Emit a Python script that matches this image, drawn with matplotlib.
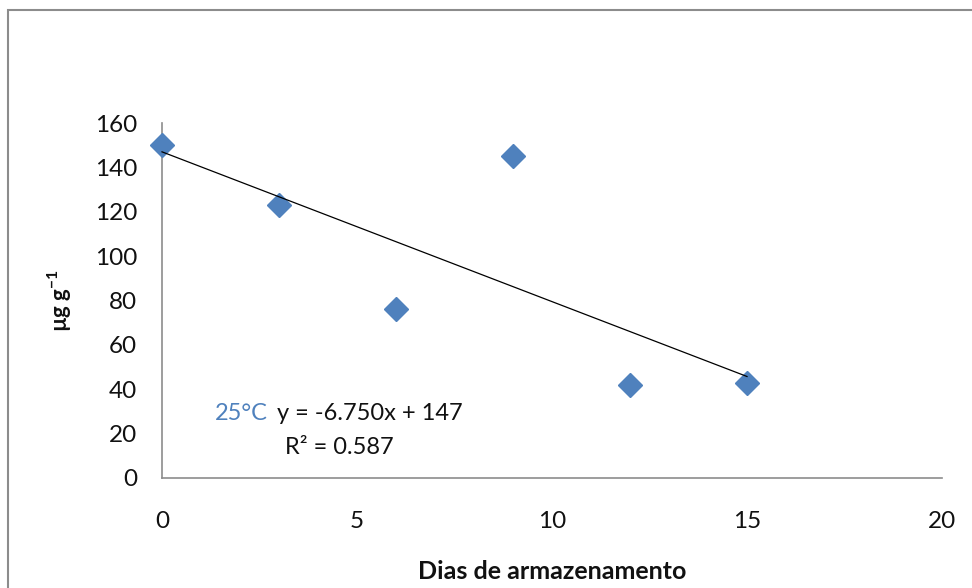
import numpy as np
import matplotlib
matplotlib.use('Agg')
import matplotlib.pyplot as plt
from matplotlib.patches import Rectangle

plt.rcParams['font.family'] = ['Lato', 'DejaVu Sans']
plt.rcParams['mathtext.fontset'] = 'custom'
plt.rcParams['mathtext.rm'] = 'Lato'
plt.rcParams['mathtext.bf'] = 'Lato:bold'

# Data
dias = [0, 3, 6, 9, 12, 15]
teor = [150, 123, 76, 145, 42, 43]
x_ticks = [0, 5, 10, 15, 20]
y_ticks = [0, 20, 40, 60, 80, 100, 120, 140, 160]

# trend line as printed on the chart
slope = -6.750
intercept = 147
r2 = 0.587

fig = plt.figure(figsize=(9.72, 5.88), dpi=100)
ax = fig.add_axes([162 / 972, 1 - 478 / 588, 780 / 972, 355 / 588])

# chart area border
fig.patches.append(Rectangle((8 / 972, -0.05), 1.2, 1 - 10 / 588 + 0.05,
                             transform=fig.transFigure, fill=False,
                             edgecolor='#8c8c8c', linewidth=1.5))

ax.plot(dias, teor, linestyle='none', marker='D', markersize=12,
        color='#4f81bd', zorder=3, clip_on=False)
xt = np.array([min(dias), max(dias)])
ax.plot(xt, slope * xt + intercept, color='black', linewidth=0.9, zorder=4,
        clip_on=False)

ax.set_xlim(0, 20)
ax.set_ylim(0, 160)
ax.set_xticks(x_ticks)
ax.set_yticks(y_ticks)
ax.tick_params(length=0, labelsize=17.5, colors='#111111')
ax.tick_params(axis='x', pad=24)
ax.tick_params(axis='y', pad=18)

for side in ['top', 'right']:
    ax.spines[side].set_visible(False)
for side in ['left', 'bottom']:
    ax.spines[side].set_color('#8c8c8c')
    ax.spines[side].set_linewidth(1.2)

ax.set_xlabel('Dias de armazenamento', fontsize=18, fontweight='bold',
              labelpad=20, color='#111111')
ax.set_ylabel('µg g$^{\\mathbf{-1}}$', fontsize=16, fontweight='bold',
              labelpad=15, color='#111111')

ax.text(1.36, 29, '25°C', color='#4f81bd', fontsize=17, va='center', ha='left')
ax.text(2.95, 29, f'y = {slope:.3f}x + {intercept}', color='#111111',
        fontsize=17, va='center', ha='left')
ax.text(3.15, 13.6, f'R² = {r2:.3f}', color='#111111',
        fontsize=17, va='center', ha='left')

fig.savefig('out.png', dpi=100)
